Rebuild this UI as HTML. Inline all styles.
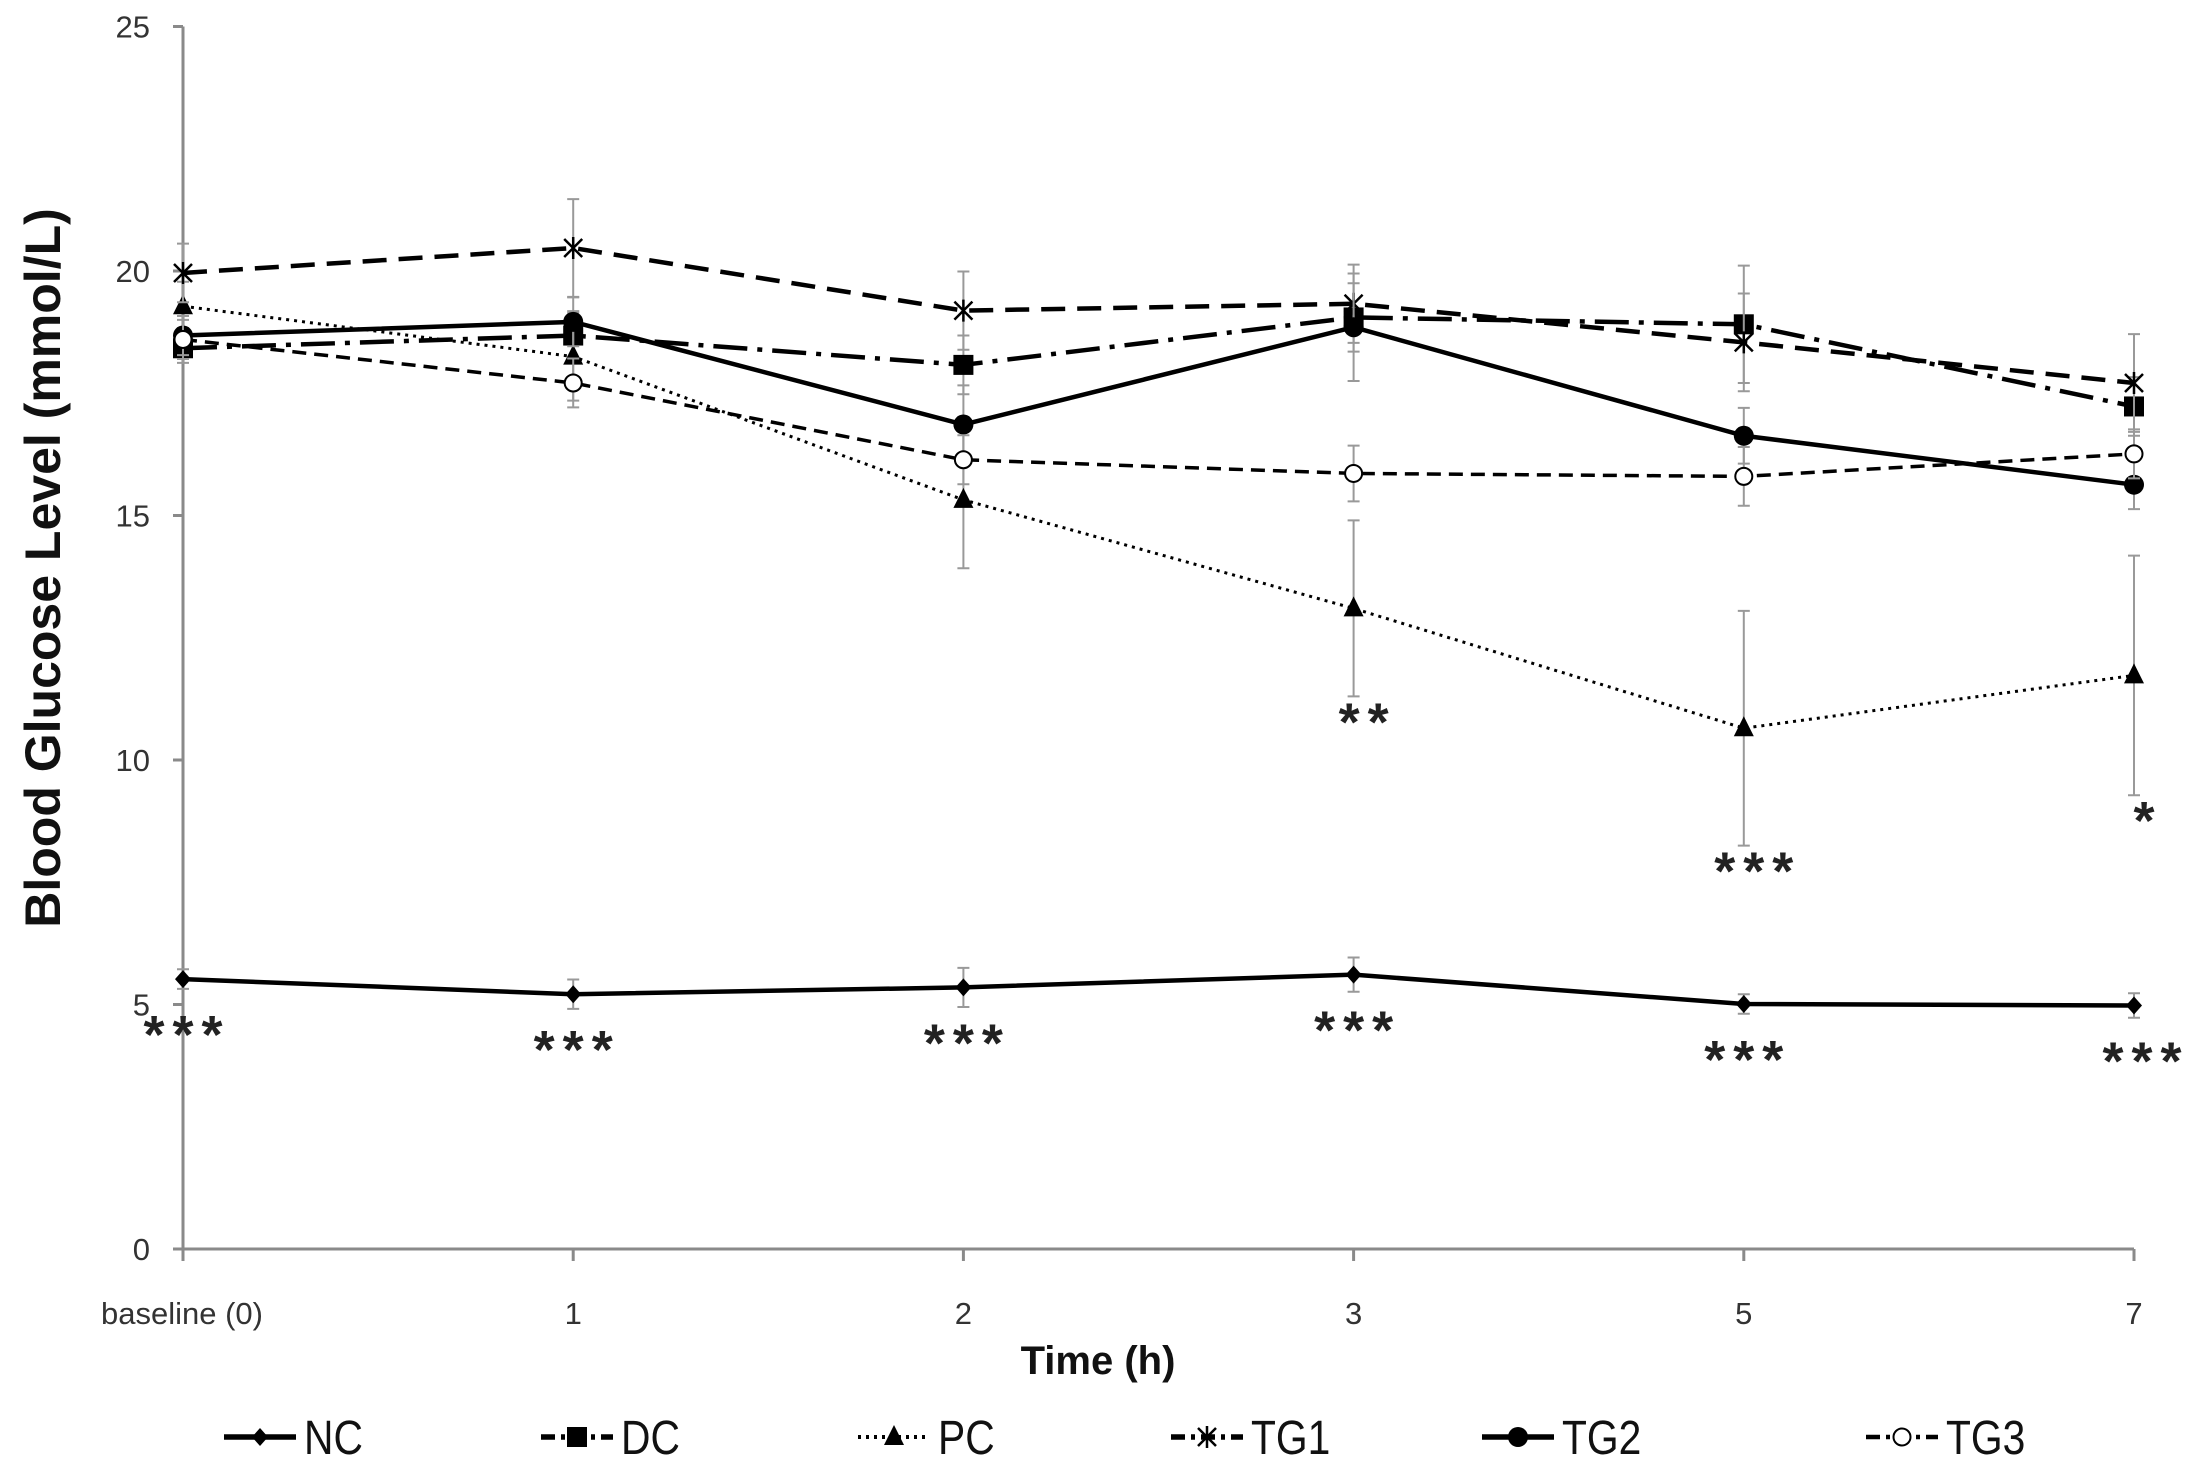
<!DOCTYPE html>
<html><head><meta charset="utf-8"><style>
html,body{margin:0;padding:0;background:#fff;}
svg{display:block;font-family:"Liberation Sans",sans-serif;}
</style></head><body>
<svg id="chart" width="2185" height="1460" viewBox="0 0 2185 1460" xmlns="http://www.w3.org/2000/svg"></svg>
<script>
const categories = ["baseline (0)","1","2","3","5","7"];
const yTicks = [0,5,10,15,20,25];
const seriesNames = ["NC","DC","PC","TG1","TG2","TG3"];
const ncValues = [5.52,5.21,5.35,5.61,5.01,4.98];
const dcValues = [18.42,18.68,18.08,19.05,18.91,17.23];
const pcValues = [19.28,18.25,15.32,13.1,10.65,11.73];
const tg1Values = [19.96,20.47,19.19,19.33,18.54,17.71];
const tg2Values = [18.68,18.96,16.86,18.85,16.63,15.63];
const tg3Values = [18.6,17.71,16.14,15.86,15.8,16.26];
const ncErr = [0.2,0.3,0.4,0.35,0.2,0.25];
const dcErr = [0.3,0.5,0.6,0.7,1.2,0.6];
const pcErr = [0.5,0.9,1.4,1.8,2.4,2.45];
const tg1Err = [0.6,1.0,0.8,0.8,1.0,1.0];
const tg2Err = [0.4,0.5,0.8,1.1,0.57,0.5];
const tg3Err = [0.4,0.5,0.5,0.57,0.6,0.5];
const ncStars = ["***","***","***","***","***","***"];
const pcStars = ["","","","**","***","*"];

const svg = document.getElementById('chart');
const NS = "http://www.w3.org/2000/svg";
const X0 = 183, X1 = 2134, Y0 = 1249, Y25 = 26.5;
function xs(i){ return X0 + i*(X1-X0)/(categories.length-1); }
function ys(v){ return Y0 - v*(Y0-Y25)/25; }
function mk(tag, attrs, parent){
  const e = document.createElementNS(NS, tag);
  for (const k in attrs) e.setAttribute(k, attrs[k]);
  (parent||svg).appendChild(e);
  return e;
}

// axes
const axes = mk('g', {});


mk('line',{x1:X0,y1:Y25,x2:X0,y2:Y0+10,stroke:'#8a8a8a','stroke-width':3},axes);
mk('line',{x1:X0-10,y1:Y0,x2:X1,y2:Y0,stroke:'#8a8a8a','stroke-width':3},axes);
yTicks.forEach(t=>{
  mk('line',{x1:X0-10,y1:ys(t),x2:X0,y2:ys(t),stroke:'#8a8a8a','stroke-width':3},axes);
  const tx = mk('text',{x:150,y:ys(t)+11,'text-anchor':'end','font-size':31,fill:'#333'},axes);
  
  
  tx.textContent = t;
});
categories.forEach((c,i)=>{
  mk('line',{x1:xs(i),y1:Y0,x2:xs(i),y2:Y0+12,stroke:'#8a8a8a','stroke-width':3},axes);
  const tx = mk('text',{x:xs(i)+(i===0?-1:0),y:1324,'text-anchor':'middle','font-size':31,fill:'#333'},axes);
  
  
  tx.textContent = c;
});
const xt = mk('text',{x:1098,y:1374,'text-anchor':'middle','font-size':40,'font-weight':'bold',fill:'#111'});


xt.textContent = 'Time (h)';
const yt = mk('text',{x:0,y:0,'text-anchor':'middle','font-size':50,'font-weight':'bold',fill:'#111',transform:'translate(60,568) rotate(-90)'});


yt.textContent = 'Blood Glucose Level (mmol/L)';

const styles = {
  NC:{vals:ncValues,err:ncErr,dash:'',w:4.5,marker:'diamond'},
  DC:{vals:dcValues,err:dcErr,dash:'34,10,5,10',w:4.5,marker:'square'},
  PC:{vals:pcValues,err:pcErr,dash:'3,5',w:3,marker:'triangle'},
  TG1:{vals:tg1Values,err:tg1Err,dash:'24,12',w:4.5,marker:'cross'},
  TG2:{vals:tg2Values,err:tg2Err,dash:'',w:4.5,marker:'circle'},
  TG3:{vals:tg3Values,err:tg3Err,dash:'14,8',w:3.5,marker:'open'}
};
function marker(type,x,y,g){
  let m;
  if(type==='diamond') m=mk('path',{d:`M${x} ${y-9}L${x+8} ${y}L${x} ${y+9}L${x-8} ${y}Z`,fill:'#000'},g);
  else if(type==='square') m=mk('rect',{x:x-10,y:y-10,width:20,height:20,fill:'#000'},g);
  else if(type==='triangle') m=mk('path',{d:`M${x} ${y-12}L${x+10} ${y+8}L${x-10} ${y+8}Z`,fill:'#000'},g);
  else if(type==='cross') m=mk('path',{d:`M${x-9} ${y-9}L${x+9} ${y+9}M${x-9} ${y+9}L${x+9} ${y-9}M${x} ${y-11}L${x} ${y+11}`,stroke:'#000','stroke-width':2.5,fill:'none'},g);
  else if(type==='circle') m=mk('circle',{cx:x,cy:y,r:10,fill:'#000'},g);
  else m=mk('circle',{cx:x,cy:y,r:8.5,fill:'#fff',stroke:'#000','stroke-width':2},g);
  return m;
}
seriesNames.forEach(name=>{
  const s = styles[name];
  const g = mk('g',{});
  
  
  s.vals.forEach((v,i)=>{
    const e = s.err[i];
    const eb = mk('path',{d:`M${xs(i)} ${ys(v+e)}L${xs(i)} ${ys(v-e)}M${xs(i)-6} ${ys(v+e)}L${xs(i)+6} ${ys(v+e)}M${xs(i)-6} ${ys(v-e)}L${xs(i)+6} ${ys(v-e)}`,stroke:'#999','stroke-width':2,fill:'none'},g);
    
    
  });
  const pl = mk('polyline',{points:s.vals.map((v,i)=>xs(i)+','+ys(v)).join(' '),fill:'none',stroke:'#000','stroke-width':s.w,'stroke-dasharray':s.dash},g);
  
  
  s.vals.forEach((v,i)=>{
    const m = marker(s.marker,xs(i),ys(v),g);
    
    
  });
});
// significance stars
ncStars.forEach((st,i)=>{
  const v = ncValues[i];
  const t = mk('text',{x:xs(i)+(i===5?12:4),y:ys(v)+74,'text-anchor':'middle','font-size':54,'font-weight':'bold',fill:'#222','letter-spacing':8});
  
  
  t.textContent = st;
});
pcStars.forEach((st,i)=>{
  if(!st) return;
  const v = pcValues[i]-pcErr[i];
  const t = mk('text',{x:xs(i)+14,y:ys(v)+44,'text-anchor':'middle','font-size':54,'font-weight':'bold',fill:'#222','letter-spacing':8});
  
  
  t.textContent = st;
});
// legend
const legX = [224,541,858,1171,1482,1866];
const lg = mk('g',{});


seriesNames.forEach((name,i)=>{
  const s = styles[name];
  const g = mk('g',{},lg);
  
  
  const x = legX[i], y = 1437;
  mk('line',{x1:x,y1:y,x2:x+72,y2:y,stroke:'#000','stroke-width':s.w+1,'stroke-dasharray':s.dash?(name==='PC'?'3,5':'14,6,4,6'):''},g);
  marker(s.marker,x+36,y,g);
  const t = mk('text',{x:x+80,y:y+17,'font-size':48,fill:'#111',transform:`translate(${x+80},0) scale(0.85,1) translate(${-(x+80)},0)`},g);
  t.textContent = name;
});
</script>
</body></html>
